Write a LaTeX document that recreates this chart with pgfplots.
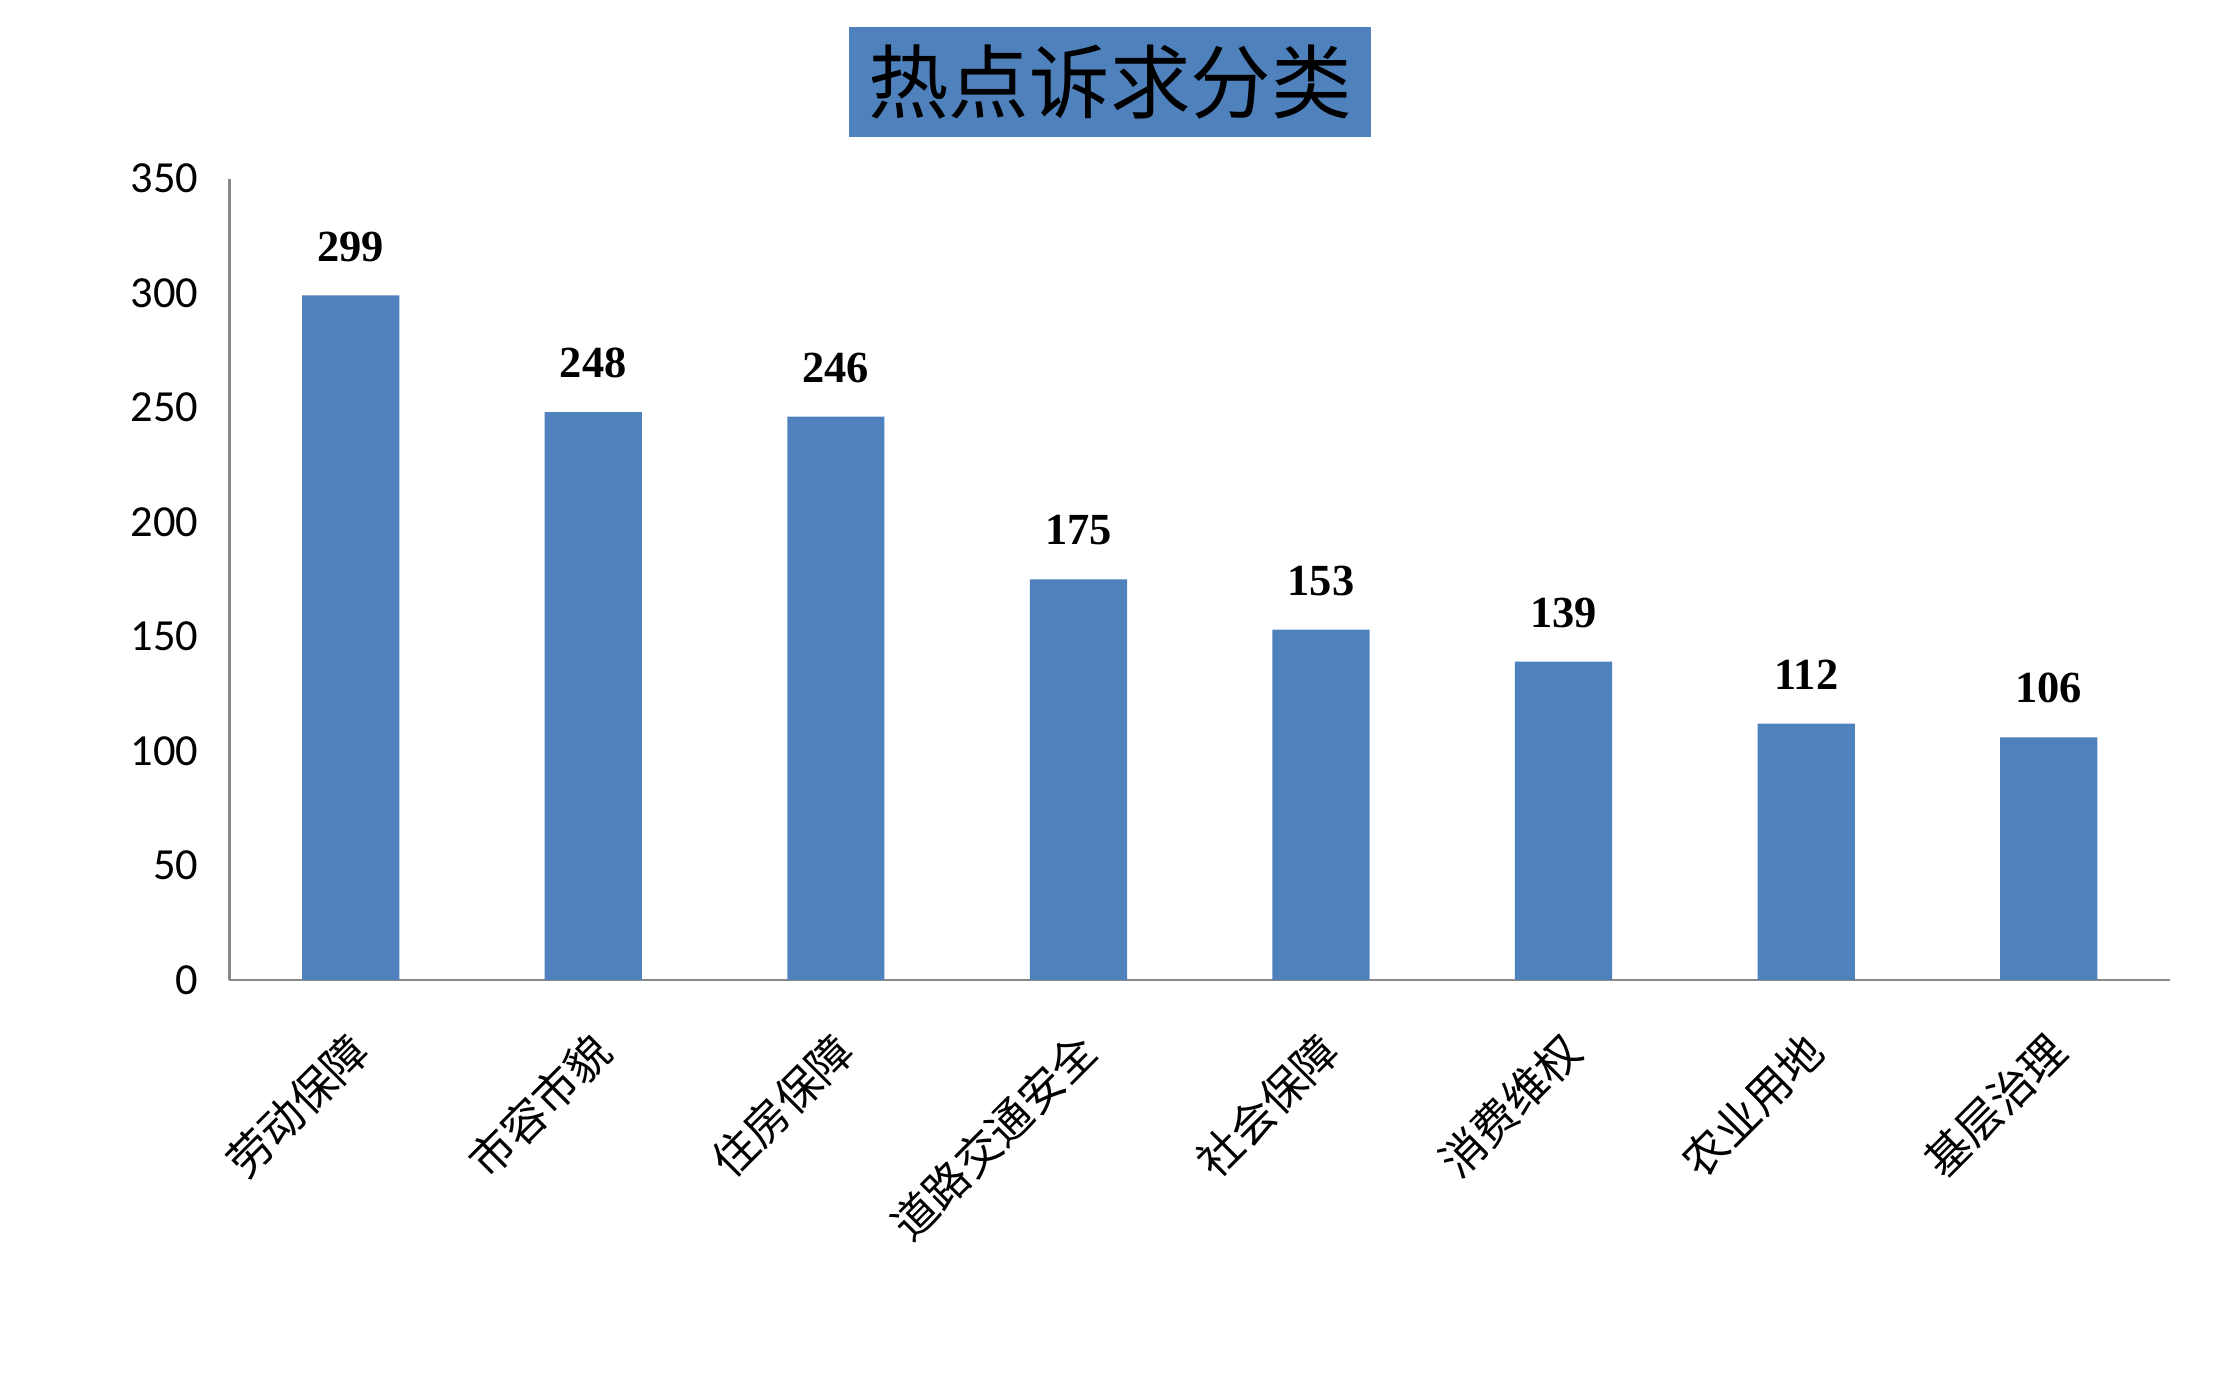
\documentclass[border=0pt]{standalone}
\usepackage{pgfplots}
\pgfplotsset{compat=1.18}
\usepackage{fontspec}
\setmainfont{Carlito}
\newfontfamily\cjk{Noto Sans CJK SC}
\newfontfamily\numfont{Liberation Serif}
\definecolor{barblue}{HTML}{4F81BD}
\definecolor{axisgray}{HTML}{898989}

\begin{document}
\begin{tikzpicture}
  % picture is 2221x1393 px at 0.36pt per px
  \path[use as bounding box] (0,0) rectangle (799.56pt,501.48pt);

  \node[fill=barblue, minimum width=188pt, minimum height=39.7pt, inner sep=0pt]
    at (399.6pt,471.9pt) {\fontsize{29}{32}\selectfont\cjk 热点诉求分类};

  \begin{axis}[%
    scale only axis,
    at={(82.6pt,148.7pt)}, anchor=south west,
    width=698.6pt, height=288.5pt,
    /pgf/number format/assume math mode=true,
    % x-axis
    axis x line=bottom,
    axis y line=left,
    axis line style={-, draw=axisgray, line width=0.9pt},
    xmin=-0.5, xmax=7.5,
    xtick=data,
    xticklabels={劳动保障,市容市貌,住房保障,道路交通安全,社会保障,消费维权,农业用地,基层治理},
    x tick label style={font=\fontsize{16}{19}\selectfont\cjk,
                        xshift=3.5pt, yshift=-22.5pt, rotate=45, anchor=east, inner sep=0pt},
    % y-axis
    ymin=0, ymax=350,
    ytick={0,50,...,350},
    y tick label style={font=\fontsize{16}{19}\selectfont, inner sep=0pt, xshift=-11pt},
    major tick length=0pt,
    ybar, bar width=35pt,
    nodes near coords,
    every node near coord/.append style={font=\fontsize{16}{19}\selectfont\numfont\bfseries,
                                         anchor=south, inner sep=0pt, yshift=12pt},
    ]
    \addplot[fill=barblue, draw=none] coordinates {
      (0,299) (1,248) (2,246) (3,175) (4,153) (5,139) (6,112) (7,106)
    };
  \end{axis}
\end{tikzpicture}
\end{document}
